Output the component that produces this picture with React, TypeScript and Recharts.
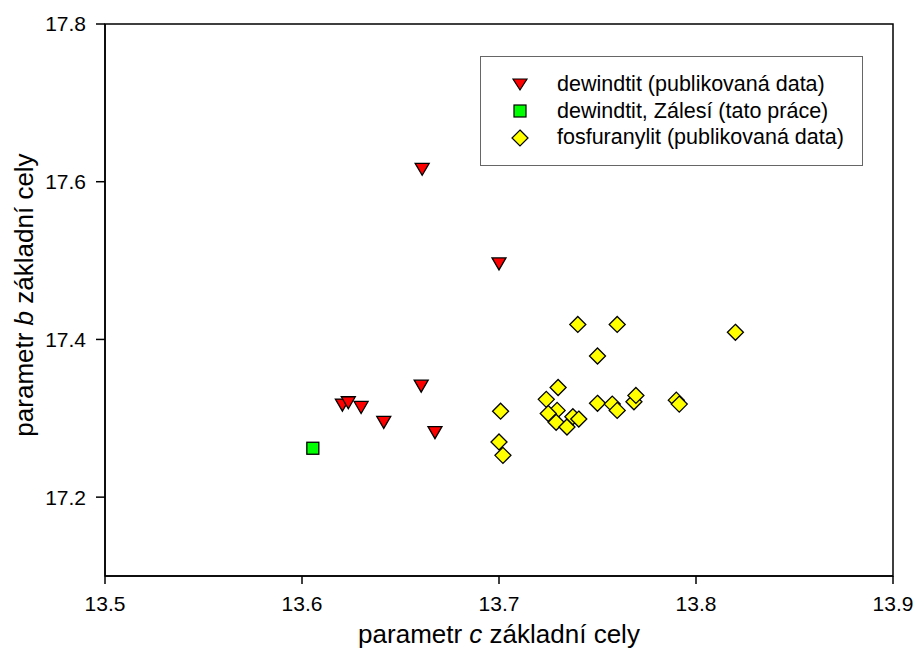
import React from "react"
import {
  ScatterChart,
  Scatter,
  XAxis,
  YAxis,
  Label,
  ReferenceArea,
} from "recharts"

// parametr c (x) a b (y) základní cely
const dewC = [13.661, 13.7, 13.6605, 13.6205, 13.6235, 13.63, 13.6415, 13.6675]
const dewB = [17.617, 17.497, 17.342, 17.318, 17.321, 17.315, 17.296, 17.283]

const zalesiC = [13.6055]
const zalesiB = [17.262]

const fosC = [
  13.74, 13.76, 13.82, 13.75, 13.73, 13.724, 13.7295, 13.725, 13.729, 13.7345, 13.7375,
  13.7405, 13.75, 13.7575, 13.76, 13.7685, 13.7695, 13.79, 13.7915, 13.7008, 13.7, 13.702,
]
const fosB = [
  17.419, 17.419, 17.409, 17.379, 17.339, 17.324, 17.31, 17.306, 17.295, 17.289, 17.302,
  17.299, 17.319, 17.318, 17.31, 17.321, 17.329, 17.323, 17.318, 17.309, 17.27, 17.253,
]

const xTicks = [13.5, 13.6, 13.7, 13.8, 13.9]
const yTicks = [17.2, 17.4, 17.6, 17.8]

const legendLabels = [
  "dewindtit (publikovaná data)",
  "dewindtit, Zálesí (tato práce)",
  "fosfuranylit (publikovaná data)",
]

const zip = (c: number[], b: number[]) => c.map((v, i) => ({ c: v, b: b[i] }))

const dewData = zip(dewC, dewB)
const zalesiData = zip(zalesiC, zalesiB)
const fosData = zip(fosC, fosB)

const FONT = "'Liberation Sans', Arial, sans-serif"

const Triangle = (props: any) => {
  const { cx, cy } = props
  if (cx == null || cy == null) return null
  return (
    <polygon
      points={`${cx - 7},${cy - 5} ${cx + 7},${cy - 5} ${cx},${cy + 7}`}
      fill="#ff0000"
      stroke="#000"
      strokeWidth={1.3}
    />
  )
}

const Square = (props: any) => {
  const { cx, cy } = props
  if (cx == null || cy == null) return null
  return (
    <rect x={cx - 6} y={cy - 6} width={12} height={12} fill="#00ff00" stroke="#000" strokeWidth={1.3} />
  )
}

const Diamond = (props: any) => {
  const { cx, cy } = props
  if (cx == null || cy == null) return null
  return (
    <polygon
      points={`${cx},${cy - 8} ${cx + 8},${cy} ${cx},${cy + 8} ${cx - 8},${cy}`}
      fill="#ffff00"
      stroke="#000"
      strokeWidth={1.3}
    />
  )
}

const legendShapes = [
  <polygon key="t" points="2,4 16,4 9,15" fill="#ff0000" stroke="#000" strokeWidth={1.2} />,
  <rect key="s" x={3} y={3} width={12} height={12} fill="#00ff00" stroke="#000" strokeWidth={1.2} />,
  <polygon key="d" points="9,1 17,9 9,17 1,9" fill="#ffff00" stroke="#000" strokeWidth={1.2} />,
]

const LegendBox = () => (
  <div
    style={{
      position: "absolute",
      left: 480,
      top: 56,
      width: 383,
      height: 110,
      border: "1.5px solid #666",
      boxSizing: "border-box",
      padding: "14px 0 0 30px",
      background: "#fff",
      fontFamily: FONT,
      fontSize: 21.5,
      color: "#000",
    }}
  >
    {legendLabels.map((t, i) => (
      <div key={t} style={{ display: "flex", alignItems: "center", height: 26.7 }}>
        <svg width={18} height={18} style={{ marginRight: 28, flexShrink: 0 }}>
          {legendShapes[i]}
        </svg>
        <span style={{ whiteSpace: "nowrap" }}>{t}</span>
      </div>
    ))}
  </div>
)

const XTitle = (props: any) => {
  const vb = props.viewBox
  return (
    <text x={vb.x + vb.width / 2} y={643} textAnchor="middle" fontFamily={FONT} fontSize={26} fill="#000">
      parametr <tspan fontStyle="italic">c</tspan> základní cely
    </text>
  )
}

const YTitle = () => {
  const cy = 295
  return (
    <text
      x={33}
      y={cy}
      transform={`rotate(-90 33 ${cy})`}
      textAnchor="middle"
      fontFamily={FONT}
      fontSize={26}
      fill="#000"
    >
      parametr <tspan fontStyle="italic">b</tspan> základní cely
    </text>
  )
}

export default function App() {
  const tick = { fill: "#000", fontSize: 21, fontFamily: FONT }
  return (
    <div style={{ position: "absolute", left: 0, top: 0, width: 917, height: 649, background: "#fff" }}>
      <ScatterChart width={917} height={649} margin={{ top: 24, right: 24, bottom: 13, left: 45 }}>
        <XAxis
          type="number"
          dataKey="c"
          domain={[13.5, 13.9]}
          ticks={xTicks}
          allowDataOverflow
          height={60}
          tickSize={8}
          tickMargin={12}
          stroke="#000"
          strokeWidth={1.5}
          tick={tick}
          tickFormatter={(v: number) => v.toFixed(1)}
        >
          <Label content={<XTitle />} />
        </XAxis>
        <YAxis
          type="number"
          dataKey="b"
          domain={[17.1, 17.8]}
          ticks={yTicks}
          allowDataOverflow
          width={60}
          tickSize={9}
          tickMargin={10}
          stroke="#000"
          strokeWidth={1.5}
          tick={tick}
          tickFormatter={(v: number) => v.toFixed(1)}
        >
          <Label content={<YTitle />} />
        </YAxis>
        <ReferenceArea x1={13.5} x2={13.9} y1={17.1} y2={17.8} fill="none" stroke="#000" strokeWidth={1.5} />
        <Scatter name={legendLabels[0]} data={dewData} shape={<Triangle />} isAnimationActive={false} />
        <Scatter name={legendLabels[1]} data={zalesiData} shape={<Square />} isAnimationActive={false} />
        <Scatter name={legendLabels[2]} data={fosData} shape={<Diamond />} isAnimationActive={false} />
      </ScatterChart>
      <LegendBox />
    </div>
  )
}
